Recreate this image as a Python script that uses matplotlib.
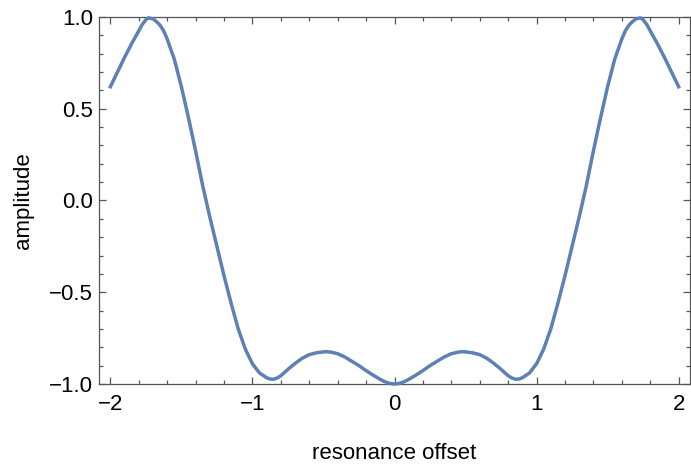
import matplotlib
matplotlib.use('Agg')
from matplotlib import pyplot as plt
from matplotlib.ticker import MultipleLocator, FixedLocator

# values (left half, centre, right half)
offset_left = [-2.00, -1.95, -1.90, -1.85, -1.80, -1.775, -1.75, -1.733, -1.70, -1.675,
               -1.65, -1.625, -1.60, -1.55, -1.50, -1.45, -1.40, -1.35, -1.30, -1.25,
               -1.20, -1.15, -1.10, -1.05, -1.00, -0.95, -0.90, -0.875, -0.85, -0.825,
               -0.80, -0.75, -0.70, -0.65, -0.60, -0.55, -0.50, -0.475, -0.45, -0.40,
               -0.35, -0.30, -0.25, -0.20, -0.15, -0.10, -0.075, -0.05, -0.025]
amp_left = [0.62, 0.70, 0.78, 0.855, 0.925, 0.96, 0.985, 0.995, 0.99, 0.975,
            0.955, 0.925, 0.88, 0.77, 0.62, 0.45, 0.27, 0.08, -0.09, -0.25,
            -0.41, -0.56, -0.70, -0.81, -0.89, -0.94, -0.966, -0.973, -0.974, -0.967,
            -0.955, -0.92, -0.888, -0.86, -0.84, -0.83, -0.825, -0.824, -0.826, -0.835,
            -0.853, -0.876, -0.90, -0.927, -0.952, -0.975, -0.985, -0.993, -0.998]
offset_mid = [0.0]
amp_mid = [-1.0]
offset_right = [0.025, 0.05, 0.075, 0.10, 0.15, 0.20, 0.25, 0.30, 0.35, 0.40,
                0.45, 0.475, 0.50, 0.55, 0.60, 0.65, 0.70, 0.75, 0.80, 0.825,
                0.85, 0.875, 0.90, 0.95, 1.00, 1.05, 1.10, 1.15, 1.20, 1.25,
                1.30, 1.35, 1.40, 1.45, 1.50, 1.55, 1.60, 1.625, 1.65, 1.675,
                1.70, 1.733, 1.75, 1.775, 1.80, 1.85, 1.90, 1.95, 2.00]
amp_right = [-0.998, -0.993, -0.985, -0.975, -0.952, -0.927, -0.90, -0.876, -0.853, -0.835,
             -0.826, -0.824, -0.825, -0.83, -0.84, -0.86, -0.888, -0.92, -0.955, -0.967,
             -0.974, -0.973, -0.966, -0.94, -0.89, -0.81, -0.70, -0.56, -0.41, -0.25,
             -0.09, 0.08, 0.27, 0.45, 0.62, 0.77, 0.88, 0.925, 0.955, 0.975,
             0.99, 0.995, 0.985, 0.96, 0.925, 0.855, 0.78, 0.70, 0.62]

x_ticks = [-2, -1, 0, 1, 2]
x_labels = ['\u22122', '\u22121', '0', '1', '2']
y_ticks = [-1.0, -0.5, 0.0, 0.5, 1.0]
y_labels = ['\u22121.0', '\u22120.5', '0.0', '0.5', '1.0']

offset = offset_left + offset_mid + offset_right
amp = amp_left + amp_mid + amp_right

plt.rcParams['font.family'] = ['Liberation Sans', 'DejaVu Sans']

fig = plt.figure(figsize=(6.91, 4.65), dpi=100)
ax = fig.add_axes([99 / 691, 1 - 384 / 465, (690 - 99) / 691, (384 - 17) / 465])

ax.plot(offset, amp, color='#5E81B5', lw=2.5, solid_joinstyle='round', clip_on=False, zorder=3)

ax.set_xlim(-2.08, 2.08)
ax.set_ylim(-1.0, 1.0)
ax.xaxis.set_major_locator(FixedLocator(x_ticks))
ax.set_xticklabels(x_labels)
ax.yaxis.set_major_locator(FixedLocator(y_ticks))
ax.set_yticklabels(y_labels)
ax.xaxis.set_minor_locator(MultipleLocator(0.2))
ax.yaxis.set_minor_locator(MultipleLocator(0.1))

frame_grey = '#555555'
for s in ax.spines.values():
    s.set_color(frame_grey)
    s.set_linewidth(0.9)
ax.tick_params(which='both', direction='in', top=True, right=True, color=frame_grey,
               labelsize=16, labelcolor='black', width=0.9)
ax.tick_params(axis='x', which='major', length=5.2, pad=7.5)
ax.tick_params(axis='y', which='major', length=5.2, pad=4.5)
ax.tick_params(which='minor', length=3.2)

ax.set_xlabel('resonance offset', fontsize=16, labelpad=20)
ax.set_ylabel('amplitude', fontsize=16, labelpad=10.5)

fig.savefig('out.png', dpi=100)
